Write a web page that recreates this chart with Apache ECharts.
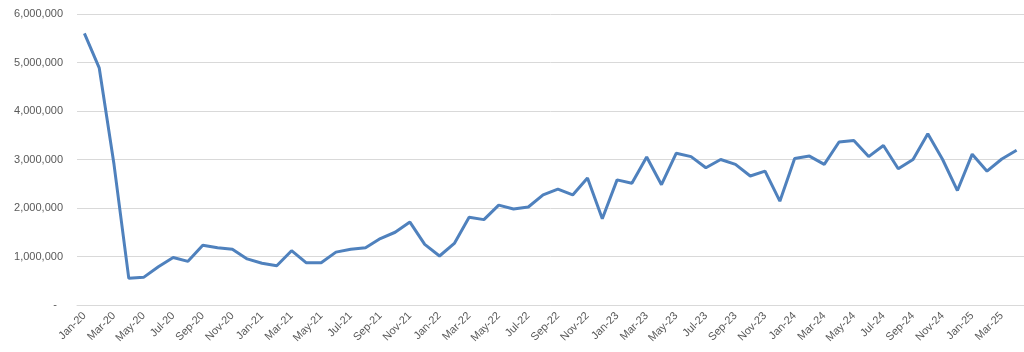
<!DOCTYPE html>
<html>
<head>
<meta charset="utf-8">
<script src="https://cdn.jsdelivr.net/npm/echarts@6/dist/echarts.min.js"></script>
<style>
  html, body { margin: 0; padding: 0; background: #fff; }
  #myChart { width: 1024px; height: 352px; }
</style>
</head>
<body>
<div id="myChart"></div>
<script>
// monthly categories Jan-20 .. Apr-25
const months = ["Jan", "Feb", "Mar", "Apr", "May", "Jun", "Jul", "Aug", "Sep", "Oct", "Nov", "Dec"];
const years = ["20", "21", "22", "23", "24", "25"];
const categories = [];
years.forEach((y) => {
  months.forEach((m) => {
    if (categories.length < 64) categories.push(m + "-" + y);
  });
});

// values
const values2020 = [5600000, 4890000, 2900000, 550000, 570000, 790000, 980000, 900000, 1230000, 1180000, 1150000, 950000];
const values2021 = [860000, 810000, 1120000, 870000, 870000, 1090000, 1150000, 1180000, 1370000, 1500000, 1710000, 1250000];
const values2022 = [1010000, 1270000, 1810000, 1760000, 2060000, 1980000, 2020000, 2270000, 2390000, 2270000, 2620000, 1780000];
const values2023 = [2580000, 2510000, 3050000, 2480000, 3130000, 3060000, 2830000, 3000000, 2900000, 2660000, 2760000, 2140000];
const values2024 = [3020000, 3070000, 2900000, 3360000, 3390000, 3060000, 3290000, 2810000, 3000000, 3530000, 3000000, 2360000];
const values2025 = [3110000, 2760000, 3010000, 3190000];
const seriesValues = [].concat(values2020, values2021, values2022, values2023, values2024, values2025);

const yTicks = { min: 0, max: 6000000, interval: 1000000 };

const myChart = echarts.init(document.getElementById("myChart"));
const option = {
  animation: false,
  grid: {
    left: 77,
    right: -3,
    top: 14,
    bottom: 47,
  },
  xAxis: {
    type: "category",
    data: categories,
    boundaryGap: true,
    axisLine: { show: true, lineStyle: { color: "#d9d9d9", width: 1 } },
    axisTick: { show: false },
    axisLabel: {
      interval: 1,
      rotate: 45,
      fontFamily: "Liberation Sans",
      fontSize: 11,
      color: "#595959",
      margin: 9,
    },
  },
  yAxis: {
    type: "value",
    min: yTicks.min,
    max: yTicks.max,
    interval: yTicks.interval,
    axisLine: { show: false },
    axisTick: { show: false },
    splitLine: { lineStyle: { color: "#d9d9d9", width: 1 } },
    axisLabel: {
      fontFamily: "Liberation Sans",
      fontSize: 11,
      color: "#595959",
      margin: 14,
      formatter: (v) => (v === 0 ? "-  " : v.toLocaleString("en-US")),
    },
  },
  series: [
    {
      type: "line",
      data: seriesValues,
      symbol: "none",
      lineStyle: { color: "#4f81bd", width: 3 },
      itemStyle: { color: "#4f81bd" },
    },
  ],
};
myChart.setOption(option);
</script>
</body>
</html>
